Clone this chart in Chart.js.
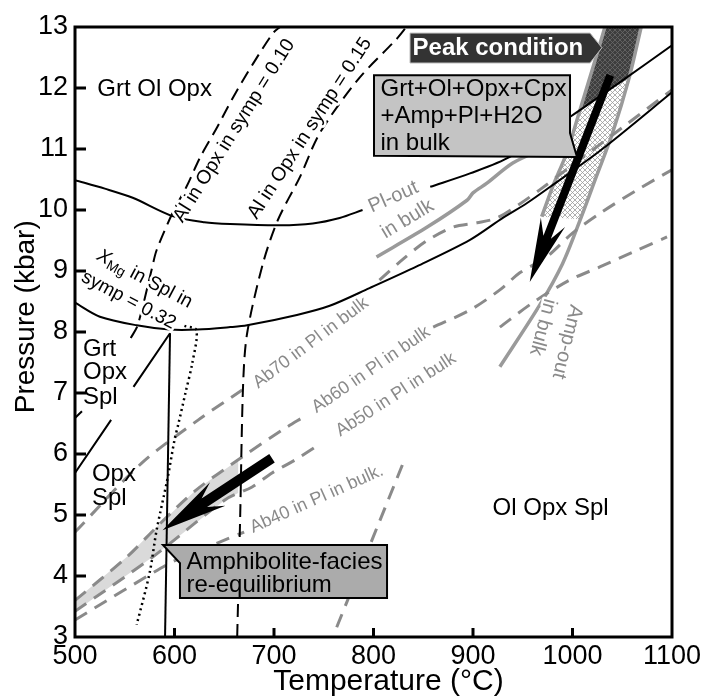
<!DOCTYPE html>
<html>
<head>
<meta charset="utf-8">
<script src="https://cdn.jsdelivr.net/npm/chart.js@4.4.1/dist/chart.umd.min.js"></script>
<style>
  html, body { margin: 0; padding: 0; background: #fff; }
  #wrap { width: 716px; height: 698px; }
</style>
</head>
<body>
<div id="wrap"><canvas id="pt"></canvas></div>
<script>
// P-T pseudosection, temperatures in °C, pressures in kbar
const xTicks = [500, 600, 700, 800, 900, 1000, 1100];
const yTicks = [3, 4, 5, 6, 7, 8, 9, 10, 11, 12, 13];

// black solid field boundaries
const upperT = [500, 530, 558, 598, 630, 656, 706, 739, 766, 789, 823, 857, 897, 937, 997, 1050, 1100];
const upperP = [10.49, 10.35, 10.2, 9.9, 9.8, 9.77, 9.75, 9.78, 9.87, 10.0, null, 10.38, 10.6, 10.87, 11.52, 12.12, 12.7];
const lowerT = [500, 525, 562, 595, 623, 656, 673, 723, 756, 796, 844, 897, 930, 954, 981, 1030, 1100];
const lowerP = [8.48, 8.25, 8.11, 8.04, 8.04, 8.08, 8.11, 8.28, 8.43, 8.72, 9.08, 9.51, 9.87, 10.11, 10.42, 11.0, 11.93];
const vertT = [595.5, 590.5];
const vertP = [7.98, 3.0];
const diagT = [595.5, 558.8, 547, 536.3, 500];
const diagP = [7.98, 7.1, null, 6.56, 5.69];
const stubT = [500, 507];
const stubP = [6.59, 6.7];

// isopleths
const al10T = [556, 563, 577, 582, 598, 612, 626, 643, 659, 679, 699, 706];
const al10P = [7.9, 8.11, 9.02, 9.34, 9.95, 10.38, 10.87, 11.36, 11.85, 12.4, 12.9, 13.0];
const al15T = [663, 666, 669, 673, 689, 704, 726, 746, 785, 823, 833];
const al15P = [3.0, 4.97, 7.16, 7.98, 9.13, 9.84, 10.54, 11.26, 12.15, 12.8, 13.0];
const xmgT = [610, 622, 618, 611, 604, 600, 593, 582, 575, 562];
const xmgP = [8.1, 8.03, 7.5, 7.0, 6.5, 6.23, 5.6, 4.75, 4.05, 3.2];

// plagioclase composition (grey dashed)
const ab70T = [500, 567, 624, 668, 737, 806, 830, 854, 880, 904, 924, 947, 967, 997, 1050, 1100];
const ab70P = [4.72, 5.85, 6.56, 7.05, null, 8.85, 9.2, 9.5, 9.72, 9.79, 9.87, 10.1, 10.33, 10.7, 11.35, 11.97];
const ab60T = [500, 552, 585, 621, 668, 708, 731, 795, 860, 897, 927, 947, 974, 1000, 1028, 1065, 1100];
const ab60P = [3.6, 4.31, 4.85, 5.4, 5.95, 6.39, 6.62, null, 8.08, 8.36, 8.69, 8.97, 9.23, 9.62, 9.95, 10.33, 10.66];
const ab50T = [500, 578, 651, 678, 698, 721, 741, 834, 927, 960, 997, 1028, 1065, 1095];
const ab50P = [3.42, 4.31, 5.25, 5.46, 5.69, 5.9, 6.11, null, 8.08, 8.48, 8.85, 9.07, 9.34, 9.56];
const ab40T = [500, 595, 643, 670, 745, 829, 763];
const ab40P = [3.28, 4.21, 4.54, 4.72, null, 5.82, 3.16];

// grey solid: Pl-out, Amp-out and the left edge of the peak field
const plOutT = [803, 854, 894, 900, 914, 940, 970, 1000];
const plOutP = [9.23, 9.72, 10.16, 10.28, 10.44, 10.77, 11.0, 11.22];
const edgeT = [969, 980, 994, 1007.5, 1020.6, 1032.6];
const edgeP = [9.89, 10.38, 10.93, 11.64, 12.34, 13.0];
const ampOutT = [927, 967, 990, 1008, 1024, 1040, 1057, 1069];
const ampOutP = [7.43, 8.44, 9.12, 9.85, 10.55, 11.25, 12.17, 13.0];

// shaded fields
const bandT = [500, 552, 585, 621, 664, 664, 651, 578, 500];
const bandP = [3.6, 4.31, 4.85, 5.4, 5.9, 5.36, 5.25, 4.31, 3.42];
const hatchT = [969, 980, 994, 1007, 1030, 1057, 1040, 1024, 1008];
const hatchP = [9.89, 10.38, 10.93, 11.62, 11.89, 12.17, 11.25, 10.55, 9.85];
const peakT = [1007, 1020.6, 1032.6, 1069, 1057, 1030];
const peakP = [11.62, 12.34, 13.0, 13.0, 12.17, 11.89];

// P-T path arrows [T0, P0, T1, P1]
const peakArrow = [1038, 12.21, 957, 8.82];
const amphArrow = [698, 5.93, 588, 4.75];

const FONT = '"Liberation Sans", Arial, Helvetica, sans-serif';
const GREY = '#8a8a8a';

const pts = (T, P) => T.map((t, i) => ({ x: t, y: P[i] }));
function line(T, P, style) {
  return Object.assign({
    data: pts(T, P), pointRadius: 0, fill: false, tension: 0.3,
    borderColor: '#000', borderWidth: 2, spanGaps: false, order: 2
  }, style);
}

const blackDash = { borderDash: [13, 7], borderWidth: 2 };
const greyDash = { borderColor: GREY, borderDash: [14, 9], borderWidth: 3 };
const greySolid = { borderColor: '#9a9a9a', borderWidth: 3.5 };

const datasets = [
  line(upperT, upperP, {}),
  line(lowerT, lowerP, {}),
  line(vertT, vertP, { tension: 0 }),
  line(diagT, diagP, { tension: 0 }),
  line(stubT, stubP, { tension: 0 }),
  line(al10T, al10P, blackDash),
  line(al15T, al15P, blackDash),
  line(xmgT, xmgP, { borderDash: [2, 3.5], borderWidth: 2.5 }),
  line(ab70T, ab70P, greyDash),
  line(ab60T, ab60P, greyDash),
  line(ab50T, ab50P, greyDash),
  line(ab40T, ab40P, Object.assign({}, greyDash, { tension: 0.15 })),
  line(plOutT, plOutP, greySolid),
  line(edgeT, edgeP, greySolid),
  line(ampOutT, ampOutP, greySolid)
];

// text placed in data coordinates
const notes = [
  { text: 'Grt Ol Opx', t: 580, p: 11.97, size: 24 },
  { text: 'Ol Opx Spl', t: 978, p: 5.11, size: 24 },
  { text: 'Grt', t: 508, p: 7.72, size: 24, align: 'left' },
  { text: 'Opx', t: 508, p: 7.33, size: 24, align: 'left' },
  { text: 'Spl', t: 508, p: 6.93, size: 24, align: 'left' },
  { text: 'Opx', t: 517, p: 5.66, size: 24, align: 'left' },
  { text: 'Spl', t: 517, p: 5.28, size: 24, align: 'left' },
  { text: 'Al in Opx in symp = 0.10', t: 660, p: 11.3, size: 19.5, rot: -58, halo: true },
  { text: 'Al in Opx in symp = 0.15', t: 736, p: 11.34, size: 19.5, rot: -57, halo: true },
  { text: 'symp = 0.32', t: 554, p: 8.52, size: 19, rot: 28, halo: true },
  { text: 'Pl-out', t: 820, p: 10.21, size: 20, rot: -24, color: GREY, halo: true },
  { text: 'in bulk', t: 834, p: 9.85, size: 20, rot: -31, color: GREY, halo: true },
  { text: 'Ab70 in Pl in bulk', t: 737, p: 7.82, size: 18, rot: -37, color: GREY, halo: true },
  { text: 'Ab60 in Pl in bulk', t: 797.5, p: 7.38, size: 18, rot: -34.5, color: GREY, halo: true },
  { text: 'Ab50 in Pl in bulk', t: 822.6, p: 6.97, size: 18, rot: -33, color: GREY, halo: true },
  { text: 'Ab40 in Pl in bulk.', t: 743, p: 5.26, size: 18, rot: -24, color: GREY, halo: true },
  { text: 'Amp-out', t: 994.5, p: 7.84, size: 20, rot: 104, color: GREY, halo: true },
  { text: 'in bulk', t: 970, p: 8.08, size: 20, rot: 105, color: GREY, halo: true }
];

function hatch(ctx, bg, fg) {
  const c = document.createElement('canvas');
  c.width = c.height = 5;
  const g = c.getContext('2d');
  g.fillStyle = bg; g.fillRect(0, 0, 5, 5);
  g.strokeStyle = fg; g.lineWidth = 0.8;
  g.beginPath(); g.moveTo(0, 0); g.lineTo(5, 5); g.moveTo(5, 0); g.lineTo(0, 5); g.stroke();
  return ctx.createPattern(c, 'repeat');
}

function halo(ctx, s, x, y) {
  ctx.save();
  ctx.strokeStyle = '#fff';
  ctx.lineWidth = 5;
  ctx.lineJoin = 'round';
  ctx.strokeText(s, x, y);
  ctx.restore();
}

const overlay = {
  id: 'overlay',
  beforeDatasetsDraw(chart) {
    const { ctx, chartArea: a, scales: { x, y } } = chart;
    const poly = (T, P, fill) => {
      ctx.beginPath();
      T.forEach((t, i) => ctx.lineTo(x.getPixelForValue(t), y.getPixelForValue(P[i])));
      ctx.closePath();
      ctx.fillStyle = fill;
      ctx.fill();
    };
    ctx.save();
    ctx.beginPath(); ctx.rect(a.left, a.top, a.right - a.left, a.bottom - a.top); ctx.clip();
    poly(bandT, bandP, '#dadada');
    poly(hatchT, hatchP, hatch(ctx, '#ffffff', '#9a9a9a'));
    poly(peakT, peakP, hatch(ctx, '#3e3e3e', '#6a6a6a'));
    ctx.restore();
  },
  afterDatasetsDraw(chart) {
    const { ctx, chartArea: a, scales: { x, y } } = chart;
    const px = v => x.getPixelForValue(v);
    const py = v => y.getPixelForValue(v);

    // notes
    notes.forEach(n => {
      ctx.save();
      ctx.translate(px(n.t), py(n.p));
      ctx.rotate((n.rot || 0) * Math.PI / 180);
      ctx.font = `${n.bold ? 'bold ' : ''}${n.size}px ${FONT}`;
      ctx.textAlign = n.align || 'center';
      ctx.textBaseline = 'middle';
      if (n.halo) halo(ctx, n.text, 0, 0);
      ctx.fillStyle = n.color || '#000';
      ctx.fillText(n.text, 0, 0);
      ctx.restore();
    });

    // X_Mg label with subscript
    ctx.save();
    ctx.translate(px(570), py(8.87));
    ctx.rotate(28 * Math.PI / 180);
    ctx.textBaseline = 'middle';
    const big = `italic 19px ${FONT}`, small = `14px ${FONT}`, norm = `19px ${FONT}`;
    ctx.font = big; const wX = ctx.measureText('X').width;
    ctx.font = small; const wMg = ctx.measureText('Mg').width;
    ctx.font = norm; const wR = ctx.measureText(' in Spl in').width;
    let cx = -(wX + wMg + wR) / 2;
    [[big, 'X', 0, wX], [small, 'Mg', 5, wMg], [norm, ' in Spl in', 0, wR]].forEach(([f, s, dy, w]) => {
      ctx.font = f;
      halo(ctx, s, cx, dy);
      ctx.fillStyle = '#000';
      ctx.fillText(s, cx, dy);
      cx += w;
    });
    ctx.restore();

    // arrows
    const arrow = (d, shaft, headLen, headW, notch) => {
      const x0 = px(d[0]), y0 = py(d[1]), x1 = px(d[2]), y1 = py(d[3]);
      const L = Math.hypot(x1 - x0, y1 - y0);
      const ux = (x1 - x0) / L, uy = (y1 - y0) / L, nx = -uy, ny = ux;
      const bx = x1 - ux * headLen, by = y1 - uy * headLen;
      const mx = x1 - ux * (headLen - notch), my = y1 - uy * (headLen - notch);
      ctx.beginPath();
      ctx.moveTo(x0 + nx * shaft / 2, y0 + ny * shaft / 2);
      ctx.lineTo(mx + nx * shaft / 2, my + ny * shaft / 2);
      ctx.lineTo(bx + nx * headW, by + ny * headW);
      ctx.lineTo(x1, y1);
      ctx.lineTo(bx - nx * headW, by - ny * headW);
      ctx.lineTo(mx - nx * shaft / 2, my - ny * shaft / 2);
      ctx.lineTo(x0 - nx * shaft / 2, y0 - ny * shaft / 2);
      ctx.closePath();
      ctx.fillStyle = '#000';
      ctx.fill();
    };
    arrow(peakArrow, 8, 64, 13, 16);
    arrow(amphArrow, 10, 66, 14, 16);

    // label boxes
    const shape = (T, P, fill, stroke, lw) => {
      ctx.beginPath();
      T.forEach((t, i) => ctx.lineTo(px(t), py(P[i])));
      ctx.closePath();
      ctx.fillStyle = fill; ctx.fill();
      ctx.lineWidth = lw; ctx.strokeStyle = stroke; ctx.stroke();
    };
    shape([836.7, 1017.6, 1029.6, 1017.6, 836.7], [12.9, 12.9, 12.66, 12.41, 12.41], '#333', '#bbb', 1);
    shape([800.5, 997.5, 997.5, 1004.5, 800.5], [12.21, 12.21, 11.26, 10.87, 10.89], '#c4c4c4', '#000', 2);
    shape([588.4, 813.6, 813.6, 605.5, 605.5], [4.51, 4.51, 3.64, 3.64, 4.21], '#ababab', '#000', 2);

    ctx.textBaseline = 'middle';
    ctx.textAlign = 'center';
    ctx.fillStyle = '#fff';
    ctx.font = `bold 24px ${FONT}`;
    ctx.fillText('Peak condition', px(925), py(12.655));
    ctx.textAlign = 'left';
    ctx.fillStyle = '#000';
    ctx.font = `24px ${FONT}`;
    ['Grt+Ol+Opx+Cpx', '+Amp+Pl+H2O', 'in bulk'].forEach((s, i) => ctx.fillText(s, px(807), py([11.97, 11.53, 11.1][i])));
    ['Amphibolite-facies', 're-equilibrium'].forEach((s, i) => ctx.fillText(s, px(612), py([4.23, 3.85][i])));

    // frame and inward ticks
    ctx.strokeStyle = '#000';
    ctx.lineWidth = 3;
    ctx.strokeRect(a.left, a.top, a.right - a.left, a.bottom - a.top);
    ctx.beginPath();
    xTicks.slice(1, -1).forEach(t => { ctx.moveTo(px(t), a.bottom); ctx.lineTo(px(t), a.bottom - 9); });
    yTicks.slice(1, -1).forEach(p => { ctx.moveTo(a.left, py(p)); ctx.lineTo(a.left + 11, py(p)); });
    ctx.stroke();

    // axis titles
    ctx.save();
    ctx.fillStyle = '#000';
    ctx.textAlign = 'center';
    ctx.textBaseline = 'middle';
    ctx.font = `30px ${FONT}`;
    ctx.fillText('Temperature (°C)', px(815), a.bottom + 45);
    ctx.font = `28px ${FONT}`;
    ctx.translate(a.left - 49, py(8.25));
    ctx.rotate(-Math.PI / 2);
    ctx.fillText('Pressure (kbar)', 0, 0);
    ctx.restore();
  }
};

Chart.defaults.font.family = FONT;
Chart.defaults.color = '#000';

new Chart(document.getElementById('pt'), {
  type: 'line',
  data: { datasets },
  options: {
    responsive: true,
    maintainAspectRatio: false,
    animation: false,
    layout: { padding: { top: 27, right: 44, left: 0, bottom: 0 } },
    plugins: { legend: { display: false }, tooltip: { enabled: false } },
    scales: {
      x: {
        type: 'linear', min: 500, max: 1100,
        afterFit(s) { s.height = 61; },
        afterBuildTicks(s) { s.ticks = xTicks.map(v => ({ value: v })); },
        grid: { display: false, drawTicks: false },
        border: { display: false },
        ticks: { padding: 3, color: '#000', font: { size: 27 }, callback: v => String(v) }
      },
      y: {
        type: 'linear', min: 3, max: 13,
        afterFit(s) { s.width = 75; },
        afterBuildTicks(s) { s.ticks = yTicks.map(v => ({ value: v })); },
        grid: { display: false, drawTicks: false },
        border: { display: false },
        ticks: { padding: 7, color: '#000', font: { size: 27 }, callback: v => String(v) }
      }
    }
  },
  plugins: [overlay]
});
</script>
</body>
</html>
